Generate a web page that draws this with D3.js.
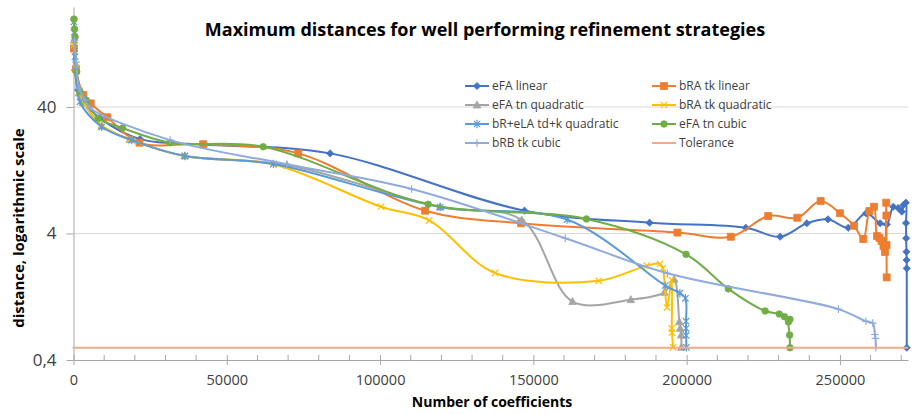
<!DOCTYPE html>
<html><head><meta charset="utf-8">
<script src="https://cdn.jsdelivr.net/npm/d3@7"></script>
<style>
body{margin:0;background:#fff;}
svg{display:block;font-family:"Open Sans",sans-serif;}
</style>
</head><body>
<svg id="chart" width="918" height="414"></svg>
<script>
// ---------- data ----------
const chartTitle = "Maximum distances for well performing refinement strategies";
const xTitle = "Number of coefficients";
const yTitle = "distance, logarithmic scale";
const xTickValues = [0, 50000, 100000, 150000, 200000, 250000];
const yTickValues = [0.4, 4, 40];
const yTickLabels = ["0,4", "4", "40"];
const seriesNames = ["eFA linear","bRA tk linear","eFA tn quadratic","bRA tk quadratic",
                     "bR+eLA td+k quadratic","eFA tn cubic","bRB tk cubic","Tolerance"];

const eFAlinearX = [160,500,1500,2800,8600,21700,42200,83700,147100,187900,219300,230500,239200,246100,252700,258500,263100,265300,267400,269000,270200,270700,271500,271560,271600,271700,271750,271790,271800];
const eFAlinearY = [117,78.4,54.5,45.4,32.7,22.3,20.2,17.2,6.06,4.87,4.44,3.77,4.82,5.18,4.44,5.78,4.82,4.73,6.51,6.36,5.95,6.72,7.01,4.84,3.67,2.87,2.47,2.12,0.5];

const bRAtkLinearX = [160,800,3200,5600,11000,21500,42300,73300,114700,146000,197000,214400,226600,236100,243700,250000,254600,257600,259600,261100,262100,262900,263600,264200,264700,265100,265150,265200,265250];
const bRAtkLinearY = [116,80,49.8,42.7,33.2,20.9,20.3,17.2,6.06,4.82,4.07,3.77,5.50,5.33,7.23,5.78,4.61,3.62,6.02,6.51,3.82,3.69,3.49,3.18,2.86,7.01,5.55,3.24,1.80];

const eFAtnQuadX = [160,820,1800,3400,9200,18400,36300,69600,119600,146200,162800,181800,192700,195900,197600,197900,198200,198300];
const eFAtnQuadY = [135,85.9,51.6,43.0,28.3,22.1,16.4,13.9,6.48,5.12,1.16,1.20,1.37,1.74,0.803,0.712,0.630,0.504];

const bRAtkQuadX = [160,820,1800,3100,9000,18400,36300,65200,100300,116000,137500,171300,187000,191300,192200,193600,195100,195150,195200,195600];
const bRAtkQuadY = [124,81.4,52.6,43.8,28.8,22.2,16.4,14.1,6.51,5.09,1.95,1.69,2.23,2.30,2.12,1.04,1.72,0.712,0.658,0.504];

const bReLAquadX = [160,330,490,2100,9200,19000,36300,65200,119600,161000,193000,197800,199600,199800,199800,199850,199900];
const bReLAquadY = [188,157,99.9,44.0,27.9,21.9,16.4,14.2,6.48,5.16,1.55,1.35,1.23,0.81,0.712,0.625,0.504];

const eFAtnCubicX = [160,330,490,1040,2100,4100,8100,16000,31500,61900,115700,167300,199800,213600,225600,230200,231900,233700,233200,233600,233700];
const eFAtnCubicY = [198,165,143,76,52.8,45.4,32.6,27.3,20.9,19.4,6.81,5.21,2.74,1.46,0.976,0.924,0.880,0.839,0.80,0.630,0.5];

const bRBtkCubicX = [330,820,1800,3700,5400,31500,69600,110300,160400,193700,249500,258500,260700,261400,261600,261700];
const bRBtkCubicY = [135,90.7,56.5,45.4,39.3,21.9,14.1,8.99,3.67,1.94,1.01,0.809,0.784,0.636,0.592,0.5];

const toleranceX = [0, 272000];
const toleranceY = [0.5, 0.5];

// ---------- styles ----------
const colors = ["#4472C4","#ED7D31","#A5A5A5","#FFC000","#5B9BD5","#70AD47","#8FAADC","#F4A98A"];
const markers = ["diamond","square","triangle","x","star","circle","plus","none"];

const series = [
  [eFAlinearX,eFAlinearY],[bRAtkLinearX,bRAtkLinearY],[eFAtnQuadX,eFAtnQuadY],[bRAtkQuadX,bRAtkQuadY],
  [bReLAquadX,bReLAquadY],[eFAtnCubicX,eFAtnCubicY],[bRBtkCubicX,bRBtkCubicY],[toleranceX,toleranceY]
].map((s,i)=>({name:seriesNames[i],color:colors[i],marker:markers[i],
  pts:s[0].map((v,j)=>({x:v,y:s[1][j]}))}));

const svg = d3.select("#chart");
const x = d3.scaleLinear().domain([0,272200]).range([73.5,908]);
const y = d3.scaleLog().domain([0.4,247]).range([360,7]);

// gridlines
svg.append("g").selectAll("line").data(yTickValues.slice(1)).join("line")
  .attr("x1",x(0)).attr("x2",x(272200)).attr("y1",d=>y(d)).attr("y2",d=>y(d))
  .attr("stroke","#D9D9D9").attr("stroke-width",1);

// x axis
const xAxis = svg.append("g").attr("transform",`translate(0,${y(0.4)})`)
  .call(d3.axisBottom(x).tickValues(xTickValues).tickSize(5).tickSizeOuter(0).tickFormat(d=>String(d)));
xAxis.select(".domain").attr("stroke","#A6A6A6");
xAxis.selectAll(".tick line").attr("y1",-5).attr("stroke","#A6A6A6");
xAxis.selectAll(".tick text").attr("y",15).attr("font-size","14.5px").attr("fill","#404040").attr("font-family","'Open Sans',sans-serif");
const minor = d3.range(10000,272000,10000).filter(v=>v%50000!==0);
xAxis.append("g").selectAll("line").data(minor).join("line")
  .attr("x1",d=>x(d)).attr("x2",d=>x(d)).attr("y1",-5).attr("y2",1).attr("stroke","#A6A6A6");

// y axis
const yAxis = svg.append("g").attr("transform",`translate(${x(0)},0)`)
  .call(d3.axisLeft(y).tickValues(yTickValues).tickSize(7).tickSizeOuter(0).tickPadding(10)
    .tickFormat((d,i)=>yTickLabels[i]));
yAxis.select(".domain").attr("stroke","#A6A6A6");
yAxis.selectAll(".tick line").attr("stroke","#A6A6A6");
yAxis.selectAll(".tick text").attr("font-size","17px").attr("fill","#404040").attr("font-family","'Open Sans',sans-serif");

// marker path generator
function markerPath(type){
  switch(type){
    case "diamond": return "M0,-3.6L3.6,0L0,3.6L-3.6,0Z";
    case "square": return "M-3.5,-3.5H3.5V3.5H-3.5Z";
    case "triangle": return "M0,-4L3.8,3L-3.8,3Z";
    case "x": return "M-3.2,-3.2L3.2,3.2M3.2,-3.2L-3.2,3.2";
    case "star": return "M-3.2,-3.2L3.2,3.2M3.2,-3.2L-3.2,3.2M0,-4.2V4.2";
    case "plus": return "M-3.8,0H3.8M0,-3.8V3.8";
    case "circle": return "M3.3,0A3.3,3.3 0 1,1 -3.3,0A3.3,3.3 0 1,1 3.3,0Z";
  }
  return null;
}
const filled = t => ["diamond","square","triangle","circle"].includes(t);

const line = d3.line().x(d=>x(d.x)).y(d=>y(d.y)).curve(d3.curveCatmullRom.alpha(0.5));

const gS = svg.append("g");
series.forEach(s=>{
  const g = gS.append("g");
  g.append("path").attr("d",line(s.pts)).attr("fill","none").attr("stroke",s.color)
    .attr("stroke-width",2).attr("stroke-linejoin","round").attr("stroke-linecap","round");
  if(s.marker!=="none"){
    g.selectAll("path.m").data(s.pts).join("path").attr("class","m")
      .attr("transform",d=>`translate(${x(d.x)},${y(d.y)})`)
      .attr("d",markerPath(s.marker))
      .attr("fill",filled(s.marker)?s.color:"none")
      .attr("stroke",s.color).attr("stroke-width",filled(s.marker)?0.8:1.2);
  }
});

// legend
const legend = svg.append("g").attr("font-size","12px").attr("fill","#404040");
const colX = [465, 652];
const rowY = [86, 105, 124, 143];
series.forEach((s,i)=>{
  const cx = colX[i%2], cy = rowY[Math.floor(i/2)];
  const g = legend.append("g").attr("transform",`translate(${cx},${cy})`);
  g.append("line").attr("x1",0).attr("x2",24).attr("y1",0).attr("y2",0).attr("stroke",s.color).attr("stroke-width",2);
  if(s.marker!=="none"){
    g.append("path").attr("transform","translate(12,0)").attr("d",markerPath(s.marker))
      .attr("fill",filled(s.marker)?s.color:"none").attr("stroke",s.color).attr("stroke-width",filled(s.marker)?0.8:1.2);
  }
  g.append("text").attr("x",27).attr("y",0).attr("dy","0.35em").text(s.name);
});

// titles
svg.append("text").attr("x",485).attr("y",30).attr("dy","0.35em").attr("text-anchor","middle")
  .attr("font-size","18px").attr("font-weight","bold").attr("fill","#000").text(chartTitle);
svg.append("text").attr("x",492).attr("y",402).attr("dy","0.35em").attr("text-anchor","middle")
  .attr("font-size","14px").attr("font-weight","bold").attr("fill","#000").text(xTitle);
svg.append("text").attr("transform","translate(19,228) rotate(-90)").attr("dy","0.35em").attr("text-anchor","middle")
  .attr("font-size","15px").attr("font-weight","bold").attr("fill","#000").text(yTitle);
</script>
</body></html>
